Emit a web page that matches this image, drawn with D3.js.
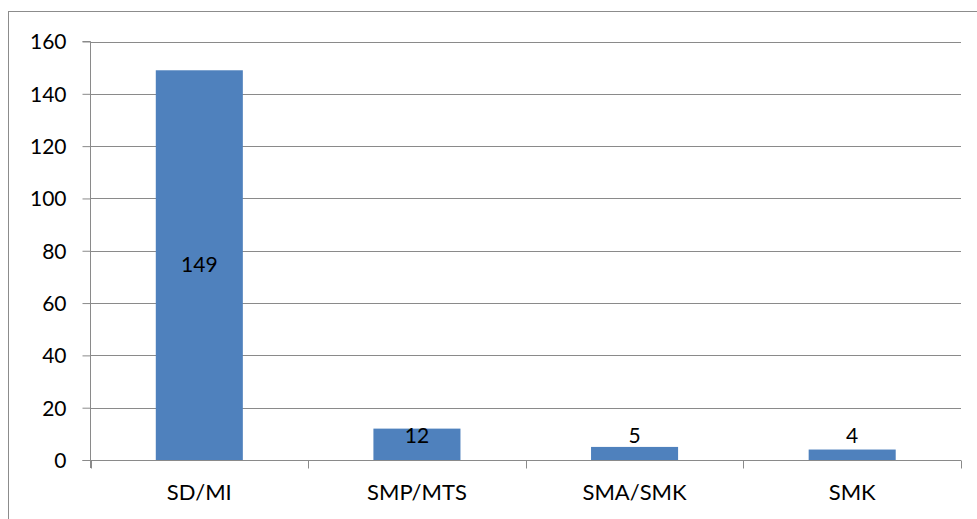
<!DOCTYPE html>
<html>
<head>
<meta charset="utf-8">
<script src="https://cdn.jsdelivr.net/npm/d3@7/dist/d3.min.js"></script>
<style>
  html, body { margin: 0; padding: 0; background: #fff; }
  svg { display: block; }
  text { font-family: Lato, "Open Sans", sans-serif; fill: #000; }
</style>
</head>
<body>
<svg id="chart" width="977" height="519"></svg>
<script>
// Counts per category
const categories = ["SD/MI", "SMP/MTS", "SMA/SMK", "SMK"];
const counts = [149, 12, 5, 4];
const yTicks = [0, 20, 40, 60, 80, 100, 120, 140, 160];

const W = 977, H = 519;
const margin = { left: 90.5, right: 16, top: 41.5, bottom: 59 };
const svg = d3.select("#chart");

// outer chart frame
svg.append("rect")
  .attr("x", 8.5).attr("y", 11.5)
  .attr("width", W + 10).attr("height", H + 10)
  .attr("fill", "none").attr("stroke", "#8c8c8c").attr("stroke-width", 1);

const x = d3.scaleBand()
  .domain(categories)
  .range([margin.left, W - margin.right])
  .paddingInner(0.6).paddingOuter(0.3);

const y = d3.scaleLinear()
  .domain([0, 160])
  .range([H - margin.bottom, margin.top]);

const gridColor = "#8a8a8a";

// horizontal gridlines
svg.append("g")
  .selectAll("line")
  .data(yTicks.filter(t => t > 0))
  .join("line")
  .attr("x1", margin.left).attr("x2", W - margin.right)
  .attr("y1", d => Math.round(y(d)) + 0.5).attr("y2", d => Math.round(y(d)) + 0.5)
  .attr("stroke", gridColor).attr("stroke-width", 1);

// bars
svg.append("g")
  .selectAll("rect")
  .data(categories.map((c, i) => ({ c, v: counts[i] })))
  .join("rect")
  .attr("x", d => x(d.c))
  .attr("width", x.bandwidth())
  .attr("y", d => y(d.v))
  .attr("height", d => y(0) - y(d.v))
  .attr("fill", "#4F81BD");

// y axis
const yAxis = d3.axisLeft(y).tickValues(yTicks).tickSize(8).tickPadding(16);
const gy = svg.append("g")
  .attr("transform", `translate(${margin.left},0)`)
  .call(yAxis);
gy.select(".domain").attr("stroke", gridColor).attr("d", `M-8,${y(160)}H0V${y(0) + 8}`);
gy.selectAll(".tick line").attr("stroke", gridColor);
gy.selectAll(".tick text")
  .style("font-size", "21px").attr("fill", "#000").attr("dy", "0.35em");

// x axis
const band = (W - margin.right - margin.left) / categories.length;
const gx = svg.append("g")
  .attr("transform", `translate(0,${Math.round(y(0)) + 0.5})`);
gx.append("line")
  .attr("x1", margin.left - 8).attr("x2", W - margin.right)
  .attr("stroke", gridColor);
gx.selectAll("line.tk")
  .data(d3.range(categories.length + 1))
  .join("line").attr("class", "tk")
  .attr("x1", i => Math.round(margin.left + i * band) + 0.5)
  .attr("x2", i => Math.round(margin.left + i * band) + 0.5)
  .attr("y1", 0).attr("y2", 8)
  .attr("stroke", gridColor);
gx.selectAll("text")
  .data(categories)
  .join("text")
  .attr("x", d => x(d) + x.bandwidth() / 2)
  .attr("y", 32)
  .attr("dy", "0.35em")
  .attr("text-anchor", "middle")
  .style("font-size", "22px")
  .text(d => d);

// value labels, centred in the bar but kept clear of the axis
svg.append("g")
  .selectAll("text")
  .data(categories.map((c, i) => ({ c, v: counts[i] })))
  .join("text")
  .attr("x", d => x(d.c) + x.bandwidth() / 2)
  .attr("y", d => Math.min((y(d.v) + y(0)) / 2, y(0) - 24))
  .attr("dy", "0.35em")
  .attr("text-anchor", "middle")
  .style("font-size", "21px")
  .text(d => d.v);
</script>
</body>
</html>
